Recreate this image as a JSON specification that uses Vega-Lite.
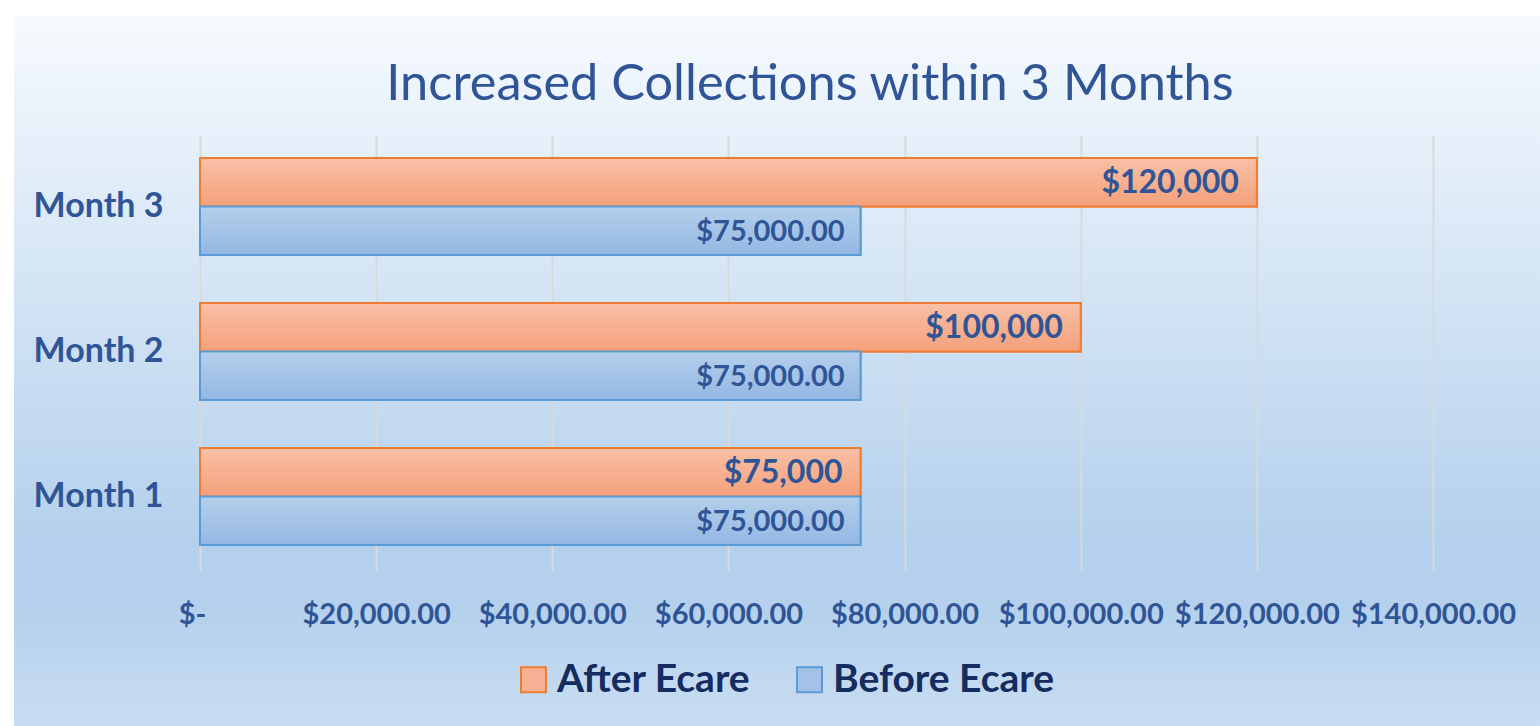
{
  "$schema": "https://vega.github.io/schema/vega-lite/v6.json",
  "width": 1526,
  "height": 726,
  "autosize": {"type": "none"},
  "padding": {"left": 14, "top": 0, "right": 0, "bottom": 0},
  "background": "#ffffff",
  "config": {
    "font": "Lato",
    "view": {
      "stroke": null,
      "fill": {
        "gradient": "linear", "x1": 0, "y1": 0, "x2": 0, "y2": 1,
        "stops": [
          {"offset": 0, "color": "#ffffff"},
          {"offset": 0.022, "color": "#ffffff"},
          {"offset": 0.022, "color": "#f6fafe"},
          {"offset": 0.746, "color": "#b4d0ec"},
          {"offset": 0.834, "color": "#b4d0ec"},
          {"offset": 1, "color": "#c9ddf2"}
        ]
      }
    },
    "legend": {
      "symbolType": "square",
      "symbolSize": 625,
      "symbolStrokeWidth": 2,
      "labelFont": "Lato",
      "labelFontSize": 39,
      "labelFontWeight": "bold",
      "labelColor": "#142c60",
      "labelOffset": 4,
      "columnPadding": 39,
      "labelLimit": 400
    }
  },
  "title": {
    "text": "Increased Collections within 3 Months",
    "font": "Lato",
    "fontSize": 50.5,
    "fontWeight": "normal",
    "color": "#2f5597",
    "anchor": "middle",
    "dx": 33,
    "offset": -110
  },
  "data": {
    "values": [
      {"month": "Month 1", "series": "After Ecare", "value": 75000},
      {"month": "Month 1", "series": "Before Ecare", "value": 75000},
      {"month": "Month 2", "series": "After Ecare", "value": 100000},
      {"month": "Month 2", "series": "Before Ecare", "value": 75000},
      {"month": "Month 3", "series": "After Ecare", "value": 120000},
      {"month": "Month 3", "series": "Before Ecare", "value": 75000}
    ]
  },
  "encoding": {
    "y": {
      "field": "month",
      "type": "nominal",
      "sort": ["Month 3", "Month 2", "Month 1"],
      "scale": {"range": [156, 591], "paddingInner": 0.331, "paddingOuter": 0.1655, "align": 0.042},
      "axis": {
        "title": null,
        "orient": "left",
        "offset": -150,
        "domain": false,
        "ticks": false,
        "grid": false,
        "labelPadding": 1,
        "labelFont": "Lato",
        "labelFontSize": 34,
        "labelFontWeight": "bold",
        "labelColor": "#2f5597"
      }
    },
    "yOffset": {
      "field": "series",
      "type": "nominal",
      "sort": ["After Ecare", "Before Ecare"],
      "scale": {"paddingInner": 0, "paddingOuter": 0}
    },
    "x": {
      "field": "value",
      "type": "quantitative",
      "scale": {"domain": [0, 140000], "range": [186, 1419], "nice": false, "zero": true},
      "axis": {
        "title": null,
        "orient": "bottom",
        "offset": -128,
        "values": [0, 20000, 40000, 60000, 80000, 100000, 120000, 140000],
        "labelExpr": "datum.value === 0 ? '$-' : format(datum.value, '$,.2f')",
        "labelOffset": {"condition": {"test": "datum.value === 0", "value": -8}, "value": 0},
        "domain": false,
        "ticks": false,
        "grid": true,
        "gridColor": "#d9d9d9",
        "gridWidth": 2,
        "labelPadding": 2,
        "labelFont": "Lato",
        "labelFontSize": 29,
        "labelFontWeight": "bold",
        "labelColor": "#2f5597",
        "labelFlush": false,
        "labelOverlap": false
      }
    }
  },
  "layer": [
    {
      "mark": {"type": "bar", "strokeWidth": 2},
      "encoding": {
        "fill": {
          "field": "series",
          "type": "nominal",
          "scale": {"domain": ["After Ecare", "Before Ecare"], "range": ["#f6b093", "#a4c2e7"]},
          "legend": {"title": null, "orient": "none", "direction": "horizontal", "legendX": 500, "legendY": 660}
        },
        "stroke": {
          "field": "series",
          "type": "nominal",
          "scale": {"domain": ["After Ecare", "Before Ecare"], "range": ["#ed7d31", "#5b9bd5"]},
          "legend": {"title": null, "orient": "none", "direction": "horizontal", "legendX": 500, "legendY": 660}
        }
      }
    },
    {
      "transform": [{"filter": "datum.series === 'After Ecare'"}],
      "mark": {
        "type": "bar",
        "stroke": "#ed7d31",
        "strokeWidth": 2,
        "fill": {
          "gradient": "linear", "x1": 0, "y1": 0, "x2": 0, "y2": 1,
          "stops": [{"offset": 0, "color": "#f8c0a6"}, {"offset": 1, "color": "#f4a07a"}]
        }
      }
    },
    {
      "transform": [{"filter": "datum.series === 'Before Ecare'"}],
      "mark": {
        "type": "bar",
        "stroke": "#5b9bd5",
        "strokeWidth": 2,
        "fill": {
          "gradient": "linear", "x1": 0, "y1": 0, "x2": 0, "y2": 1,
          "stops": [{"offset": 0, "color": "#b4cfeb"}, {"offset": 1, "color": "#94b7e3"}]
        }
      }
    },
    {
      "transform": [{"filter": "datum.series === 'After Ecare'"}],
      "mark": {"type": "text", "align": "right", "baseline": "middle", "dx": -18, "dy": 1, "font": "Lato", "fontSize": 32, "fontWeight": "bold", "color": "#2f5597"},
      "encoding": {"text": {"field": "value", "type": "quantitative", "format": "$,.0f"}}
    },
    {
      "transform": [{"filter": "datum.series === 'Before Ecare'"}],
      "mark": {"type": "text", "align": "right", "baseline": "middle", "dx": -16, "dy": 1, "font": "Lato", "fontSize": 29, "fontWeight": "bold", "color": "#2f5597"},
      "encoding": {"text": {"field": "value", "type": "quantitative", "format": "$,.2f"}}
    }
  ]
}
